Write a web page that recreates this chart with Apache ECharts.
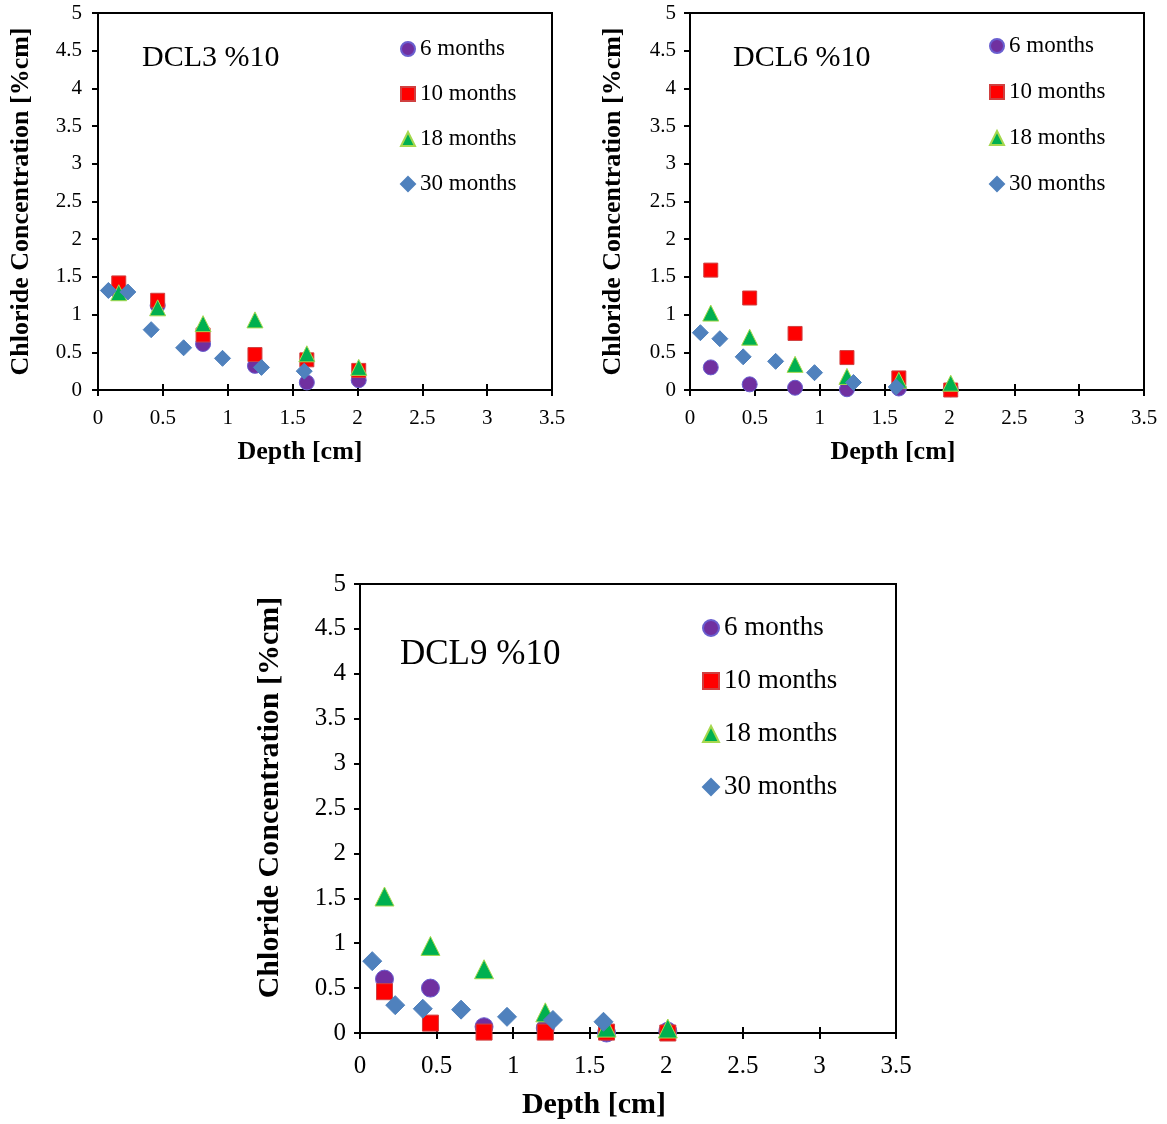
<!DOCTYPE html>
<html>
<head>
<meta charset="utf-8">
<script src="https://cdn.jsdelivr.net/npm/echarts@6/dist/echarts.min.js"></script>
<style>
html,body{margin:0;padding:0;background:#fff;}
#chart{width:1167px;height:1124px;}
</style>
</head>
<body>
<div id="chart"></div>
<script>
// ---- Data ----
const seriesNames = ['6 months', '10 months', '18 months', '30 months'];
const panelTitles = ['DCL3 %10', 'DCL6 %10', 'DCL9 %10'];
const xTicks = [0, 0.5, 1, 1.5, 2, 2.5, 3, 3.5];
const yTicks = [0, 0.5, 1, 1.5, 2, 2.5, 3, 3.5, 4, 4.5, 5];

const depth = [0.16, 0.46, 0.81, 1.21, 1.61, 2.01];
const depth30 = [0.08, 0.23, 0.41, 0.66, 0.96, 1.26, 1.59];

const dcl3_6m  = [1.30, 1.12, 0.61, 0.32, 0.10, 0.13];
const dcl3_10m = [1.42, 1.19, 0.73, 0.47, 0.40, 0.26];
const dcl3_18m = [1.29, 1.09, 0.88, 0.93, 0.48, 0.30];
const dcl3_30m = [1.32, 1.30, 0.80, 0.56, 0.42, 0.30, 0.25];

const dcl6_6m  = [0.30, 0.075, 0.03, 0.01, 0.02, 0.01];
const dcl6_10m = [1.59, 1.22, 0.75, 0.43, 0.16, 0.00];
const dcl6_18m = [1.02, 0.70, 0.34, 0.18, 0.13, 0.09];
const dcl6_30m = [0.76, 0.68, 0.44, 0.38, 0.23, 0.10, 0.04];

const dcl9_6m  = [0.60, 0.50, 0.07, 0.055, 0.00, 0.02];
const dcl9_10m = [0.46, 0.11, 0.01, 0.01, 0.01, 0.00];
const dcl9_18m = [1.52, 0.97, 0.71, 0.23, 0.06, 0.05];
const dcl9_30m = [0.80, 0.31, 0.27, 0.26, 0.18, 0.145, 0.125];

// ---- Build ----
const FONT = 'Liberation Serif';
const panels = [
  {vals: [dcl3_6m, dcl3_10m, dcl3_18m, dcl3_30m],
   grid: {left: 98, top: 13, width: 454, height: 377},
   s: 1, title: {left: 137, top: 38}, legend: {left: 395, top: 32},
   gap: 21, nameShiftX: 50, nameShiftY: 0, yMargin: 16, xMargin: 18},
  {vals: [dcl6_6m, dcl6_10m, dcl6_18m, dcl6_30m],
   grid: {left: 690, top: 13, width: 454, height: 377},
   s: 1, title: {left: 728, top: 38}, legend: {left: 984, top: 29},
   gap: 22, nameShiftX: 48, nameShiftY: 0, yMargin: 14, xMargin: 18},
  {vals: [dcl9_6m, dcl9_10m, dcl9_18m, dcl9_30m],
   grid: {left: 360, top: 584, width: 536, height: 449},
   s: 1.17, title: {left: 395, top: 632}, legend: {left: 697, top: 609},
   gap: 25, nameShiftX: 68, nameShiftY: 22, yMargin: 14, xMargin: 21}
];

const styles = [
  {symbol: 'circle', color: '#7030A0', border: '#6a5fd0', size: 15},
  {symbol: 'rect', color: '#FF0000', border: '#d04040', size: 14},
  {symbol: 'triangle', color: '#00B050', border: '#a6d84e', size: 16},
  {symbol: 'diamond', color: '#4F81BD', border: '#4F81BD', size: 16}
];

const grids = [], xAxes = [], yAxes = [], series = [], titles = [], legends = [];
panels.forEach((p, gi) => {
  const s = p.s;
  grids.push(Object.assign({show: true, borderColor: '#000', borderWidth: 2, containLabel: false}, p.grid));
  const axisFont = Math.round(21 * s);
  const nameFont = Math.round(26 * s);
  xAxes.push({
    gridIndex: gi, type: 'value', min: xTicks[0], max: xTicks[xTicks.length - 1], interval: 0.5,
    axisLine: {show: true, lineStyle: {color: '#000', width: 2}},
    axisTick: {show: true, length: 6, lineStyle: {color: '#000', width: 2}},
    axisLabel: {color: '#000', fontFamily: FONT, fontSize: axisFont, margin: p.xMargin},
    splitLine: {show: false},
    name: 'Depth [cm]', nameLocation: 'middle', nameGap: Math.round(49 * s),
    nameTextStyle: {color: '#000', fontFamily: FONT, fontWeight: 'bold', fontSize: nameFont,
      padding: [0, p.nameShiftX, 0, 0]}
  });
  // inner tick duplicate for crossing ticks
  xAxes.push({
    gridIndex: gi, type: 'value', min: xTicks[0], max: xTicks[xTicks.length - 1], interval: 0.5,
    position: 'bottom',
    axisLine: {show: false},
    axisTick: {show: true, inside: true, length: 6, lineStyle: {color: '#000', width: 2}},
    axisLabel: {show: false}, splitLine: {show: false}
  });
  yAxes.push({
    gridIndex: gi, type: 'value', min: yTicks[0], max: yTicks[yTicks.length - 1], interval: 0.5,
    axisLine: {show: true, lineStyle: {color: '#000', width: 2}},
    axisTick: {show: true, length: 6, lineStyle: {color: '#000', width: 2}},
    axisLabel: {color: '#000', fontFamily: FONT, fontSize: axisFont, margin: p.yMargin},
    splitLine: {show: false},
    name: 'Chloride Concentration [%cm]', nameLocation: 'middle', nameGap: Math.round(64 * s),
    nameTextStyle: {color: '#000', fontFamily: FONT, fontWeight: 'bold', fontSize: nameFont,
      padding: [0, 0, 0, p.nameShiftY]}
  });
  p.vals.forEach((vals, si) => {
    const st = styles[si];
    const xs = si === 3 ? depth30 : depth;
    series.push({
      type: 'scatter', name: seriesNames[si],
      xAxisIndex: gi * 2, yAxisIndex: gi,
      symbol: st.symbol, symbolSize: Math.round(st.size * s),
      itemStyle: {color: st.color, borderColor: st.border, borderWidth: 1, opacity: 1},
      data: vals.map((v, i) => [xs[i], v]),
      z: 2 + si
    });
  });
  titles.push({
    text: panelTitles[gi], left: p.title.left, top: p.title.top,
    textStyle: {fontFamily: FONT, fontWeight: 'normal', fontSize: Math.round(30 * s), color: '#000'}
  });
  legends.push({
    orient: 'vertical', left: p.legend.left, top: p.legend.top,
    itemWidth: Math.round(14 * s), itemHeight: Math.round(14 * s), itemGap: p.gap,
    data: seriesNames.map((n, i) => ({name: n, icon: styles[i].symbol})),
    textStyle: {fontFamily: FONT, fontSize: Math.round(23 * s), color: '#000', lineHeight: Math.round(24 * s)},
    selectedMode: false
  });
});

const chart = echarts.init(document.getElementById('chart'), null, {renderer: 'canvas'});
chart.setOption({
  backgroundColor: '#fff',
  animation: false,
  title: titles,
  legend: legends,
  grid: grids,
  xAxis: xAxes,
  yAxis: yAxes,
  series: series
});
</script>
</body>
</html>
